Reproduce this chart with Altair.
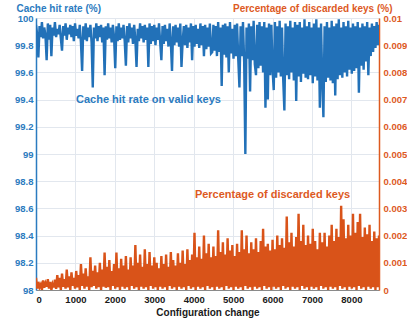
import altair as alt
import pandas as pd

# Configuration-change index, one sample every 30 changes
change = list(range(0, 8701, 30))

# Cache hit rate on valid keys (%)
hit_rate = [
    99.95, 99.88, 99.71, 99.94, 99.86, 99.97, 99.85, 99.93, 99.87, 99.69,
    99.96, 99.84, 99.95, 99.72, 99.93, 99.87, 99.97, 99.86, 99.92, 99.88,
    99.95, 99.85, 99.76, 99.94, 99.87, 99.96, 99.84, 99.93, 99.88, 99.95,
    99.86, 99.94, 99.83, 99.96, 99.87, 99.92, 99.85, 99.95, 99.82, 99.61,
    99.94, 99.84, 99.96, 99.83, 99.93, 99.86, 99.95, 99.82, 99.49, 99.93,
    99.85, 99.96, 99.83, 99.94, 99.86, 99.95, 99.82, 99.93, 99.58, 99.94,
    99.84, 99.96, 99.85, 99.93, 99.82, 99.95, 99.86, 99.63, 99.94, 99.83,
    99.96, 99.84, 99.93, 99.85, 99.95, 99.83, 99.65, 99.94, 99.82, 99.96,
    99.85, 99.93, 99.81, 99.95, 99.84, 99.64, 99.92, 99.83, 99.96, 99.85,
    99.94, 99.82, 99.95, 99.84, 99.93, 99.64, 99.96, 99.81, 99.94, 99.83,
    99.95, 99.80, 99.93, 99.84, 99.96, 99.82, 99.69, 99.94, 99.81, 99.95,
    99.83, 99.92, 99.79, 99.96, 99.82, 99.61, 99.94, 99.80, 99.95, 99.82,
    99.93, 99.79, 99.96, 99.64, 99.83, 99.94, 99.80, 99.95, 99.78, 99.93,
    99.82, 99.96, 99.69, 99.94, 99.79, 99.95, 99.81, 99.92, 99.78, 99.96,
    99.80, 99.94, 99.72, 99.95, 99.77, 99.93, 99.79, 99.96, 99.74, 99.75,
    99.95, 99.76, 99.94, 99.72, 99.97, 99.75, 99.93, 99.50, 99.95, 99.73,
    99.96, 99.71, 99.94, 99.60, 99.97, 99.74, 99.92, 99.70, 99.95, 99.72,
    99.96, 99.70, 99.49, 99.94, 99.72, 99.97, 99.68, 99.00, 99.93, 99.70,
    99.96, 99.46, 99.94, 99.69, 99.98, 99.66, 99.58, 99.95, 99.63, 99.97,
    99.65, 99.94, 99.60, 99.97, 99.34, 99.93, 99.40, 99.96, 99.58, 99.95,
    99.62, 99.47, 99.97, 99.56, 99.94, 99.60, 99.98, 99.57, 99.93, 99.55,
    99.32, 99.96, 99.58, 99.94, 99.55, 99.98, 99.60, 99.93, 99.54, 99.97,
    99.39, 99.95, 99.57, 99.97, 99.53, 99.93, 99.59, 99.99, 99.56, 99.94,
    99.55, 99.97, 99.58, 99.93, 99.52, 99.96, 99.57, 99.99, 99.54, 99.93,
    99.34, 99.96, 99.55, 99.27, 99.94, 99.53, 99.97, 99.56, 99.93, 99.54,
    99.98, 99.52, 99.94, 99.43, 99.96, 99.55, 99.99, 99.58, 99.93, 99.56,
    99.97, 99.60, 99.94, 99.57, 99.98, 99.62, 99.93, 99.59, 99.96, 99.61,
    99.94, 99.63, 99.97, 99.45, 99.93, 99.65, 99.96, 99.62, 99.94, 99.68,
    99.97, 99.58, 99.93, 99.72, 99.96, 99.75, 99.94, 99.78, 99.97, 99.80,
    99.95,
]

# Percentage of discarded keys (%)
discarded = [
    0.00045, 0.00005, 0.00030, 0.00010, 0.00020, 0.00000, 0.00035, 0.00008, 0.00025, 0.00012,
    0.00040, 0.00005, 0.00030, 0.00000, 0.00022, 0.00010, 0.00038, 0.00004, 0.00055, 0.00010,
    0.00045, 0.00000, 0.00060, 0.00012, 0.00040, 0.00005, 0.00075, 0.00010, 0.00050, 0.00000,
    0.00065, 0.00015, 0.00045, 0.00005, 0.00070, 0.00010, 0.00055, 0.00000, 0.00095, 0.00015,
    0.00060, 0.00005, 0.00080, 0.00012, 0.00050, 0.00000, 0.00120, 0.00010, 0.00070, 0.00015,
    0.00090, 0.00005, 0.00065, 0.00010, 0.00100, 0.00000, 0.00075, 0.00012, 0.00138, 0.00008,
    0.00085, 0.00010, 0.00110, 0.00000, 0.00070, 0.00015, 0.00095, 0.00005, 0.00138, 0.00010,
    0.00080, 0.00000, 0.00115, 0.00012, 0.00090, 0.00005, 0.00125, 0.00010, 0.00075, 0.00000,
    0.00120, 0.00015, 0.00090, 0.00005, 0.00165, 0.00010, 0.00100, 0.00000, 0.00130, 0.00012,
    0.00085, 0.00005, 0.00150, 0.00010, 0.00095, 0.00000, 0.00140, 0.00015, 0.00090, 0.00005,
    0.00120, 0.00010, 0.00100, 0.00000, 0.00080, 0.00012, 0.00125, 0.00005, 0.00095, 0.00010,
    0.00130, 0.00000, 0.00085, 0.00015, 0.00140, 0.00005, 0.00110, 0.00010, 0.00090, 0.00000,
    0.00135, 0.00012, 0.00100, 0.00005, 0.00145, 0.00010, 0.00095, 0.00000, 0.00150, 0.00015,
    0.00110, 0.00005, 0.00130, 0.00010, 0.00210, 0.00000, 0.00120, 0.00012, 0.00160, 0.00005,
    0.00115, 0.00010, 0.00200, 0.00000, 0.00135, 0.00015, 0.00170, 0.00005, 0.00120, 0.00010,
    0.00160, 0.00000, 0.00125, 0.00012, 0.00220, 0.00005, 0.00140, 0.00010, 0.00175, 0.00000,
    0.00130, 0.00015, 0.00190, 0.00005, 0.00145, 0.00010, 0.00165, 0.00000, 0.00125, 0.00012,
    0.00170, 0.00005, 0.00140, 0.00010, 0.00220, 0.00000, 0.00150, 0.00015, 0.00200, 0.00005,
    0.00135, 0.00010, 0.00175, 0.00000, 0.00150, 0.00012, 0.00190, 0.00005, 0.00140, 0.00010,
    0.00180, 0.00000, 0.00225, 0.00015, 0.00160, 0.00005, 0.00170, 0.00010, 0.00145, 0.00000,
    0.00185, 0.00012, 0.00150, 0.00005, 0.00200, 0.00010, 0.00165, 0.00000, 0.00190, 0.00015,
    0.00155, 0.00005, 0.00270, 0.00010, 0.00175, 0.00000, 0.00210, 0.00012, 0.00160, 0.00005,
    0.00195, 0.00010, 0.00280, 0.00000, 0.00180, 0.00015, 0.00240, 0.00005, 0.00165, 0.00010,
    0.00200, 0.00000, 0.00170, 0.00012, 0.00225, 0.00005, 0.00180, 0.00010, 0.00150, 0.00000,
    0.00210, 0.00015, 0.00175, 0.00005, 0.00210, 0.00010, 0.00160, 0.00000, 0.00200, 0.00012,
    0.00240, 0.00005, 0.00180, 0.00010, 0.00225, 0.00000, 0.00195, 0.00015, 0.00310, 0.00005,
    0.00260, 0.00010, 0.00190, 0.00000, 0.00240, 0.00012, 0.00200, 0.00005, 0.00280, 0.00010,
    0.00210, 0.00000, 0.00250, 0.00015, 0.00280, 0.00005, 0.00195, 0.00010, 0.00230, 0.00000,
    0.00205, 0.00012, 0.00240, 0.00005, 0.00180, 0.00010, 0.00215, 0.00000, 0.00190, 0.00010,
    0.00200,
]

# Axis tick values
x_ticks = [0, 1000, 2000, 3000, 4000, 5000, 6000, 7000, 8000]
left_ticks = [98, 98.2, 98.4, 98.6, 98.8, 99, 99.2, 99.4, 99.6, 99.8, 100]
right_ticks = [0, 0.001, 0.002, 0.003, 0.004, 0.005, 0.006, 0.007, 0.008, 0.009, 0.01]

# In-plot series labels
hit_label = ["Cache hit rate on valid keys"]
hit_label_at = [1015, 99.375]
disc_label = ["Percentage of discarded keys"]
disc_label_at = [4030, 0.00338]

assert len(change) == len(hit_rate) == len(discarded)

df = pd.DataFrame({"change": change, "hit_rate": hit_rate, "discarded": discarded})

BLUE = "#2271b8"
BLUE_TXT = "#2b7bc0"
ORANGE = "#d95319"
ORANGE_TXT = "#dd5a1f"
GRID = "#e2e7ee"
FONT = "Liberation Sans"
LINE_W = 2.4

x_scale = alt.Scale(domain=[0, 8700], nice=False, zero=False)
x_axis = alt.Axis(
    values=x_ticks,
    format="d",
    title="Configuration change",
    titleFont=FONT,
    titleFontSize=10,
    titleFontWeight="bold",
    titleColor="#1a1a1a",
    titleBaseline="alphabetic",
    titleY=25,
    labelFont=FONT,
    labelFontSize=9.5,
    labelFontWeight="bold",
    labelColor="#1a1a1a",
    labelPadding=4,
    labelOverlap=False,
    ticks=False,
    domainColor="#8a8a8a",
    domainWidth=1,
    grid=True,
    gridColor=GRID,
    gridWidth=1,
)

left_scale = alt.Scale(domain=[98, 100], nice=False, zero=False)
left_axis = alt.Axis(
    orient="left",
    values=left_ticks,
    format="~g",
    title="Cache hit rate (%)",
    titleAngle=0,
    titleAlign="left",
    titleBaseline="alphabetic",
    titleX=-20,
    titleY=-7,
    titleFont=FONT,
    titleFontSize=10,
    titleFontWeight="bold",
    titleColor=BLUE_TXT,
    labelFont=FONT,
    labelFontSize=9.5,
    labelFontWeight="bold",
    labelColor=BLUE_TXT,
    labelPadding=3,
    labelOverlap=False,
    labelBound=False,
    ticks=False,
    domainColor=BLUE_TXT,
    domainWidth=1.5,
    grid=True,
    gridColor=GRID,
    gridWidth=1,
)

right_scale = alt.Scale(domain=[0, 0.01], nice=False, zero=True)
right_axis = alt.Axis(
    orient="right",
    values=right_ticks,
    format="~g",
    title="Percentage of discarded keys (%)",
    titleAngle=0,
    titleAlign="right",
    titleBaseline="alphabetic",
    titleX=13,
    titleY=-7,
    titleFont=FONT,
    titleFontSize=10,
    titleFontWeight="bold",
    titleColor=ORANGE_TXT,
    labelFont=FONT,
    labelFontSize=9.5,
    labelFontWeight="bold",
    labelColor=ORANGE_TXT,
    labelPadding=4,
    labelOverlap=False,
    labelBound=False,
    ticks=False,
    domainColor=ORANGE_TXT,
    domainWidth=1.5,
    grid=False,
)

hit_line = alt.Chart(df).mark_line(color=BLUE, strokeWidth=LINE_W, clip=True).encode(
    x=alt.X("change:Q", scale=x_scale, axis=x_axis),
    y=alt.Y("hit_rate:Q", scale=left_scale, axis=left_axis),
)

hit_text = alt.Chart(pd.DataFrame({"label": hit_label})).mark_text(
    align="left", baseline="alphabetic", font=FONT, fontSize=11,
    fontWeight="bold", color=BLUE_TXT,
).encode(
    x=alt.XDatum(hit_label_at[0], scale=x_scale, axis=x_axis),
    y=alt.YDatum(hit_label_at[1], scale=left_scale, axis=left_axis),
    text="label:N",
)

disc_line = alt.Chart(df).mark_line(color=ORANGE, strokeWidth=LINE_W, clip=True).encode(
    x=alt.X("change:Q", scale=x_scale, axis=x_axis),
    y=alt.Y("discarded:Q", scale=right_scale, axis=right_axis),
)

disc_text = alt.Chart(pd.DataFrame({"label": disc_label})).mark_text(
    align="left", baseline="alphabetic", font=FONT, fontSize=11,
    fontWeight="bold", color=ORANGE_TXT,
).encode(
    x=alt.XDatum(disc_label_at[0], scale=x_scale, axis=x_axis),
    y=alt.YDatum(disc_label_at[1], scale=right_scale, axis=right_axis),
    text="label:N",
)

chart = (
    alt.layer(alt.layer(hit_line, hit_text), alt.layer(disc_line, disc_text))
    .resolve_scale(y="independent")
    .properties(
        width=343,
        height=272,
        autosize=alt.AutoSizeParams(type="none"),
        padding={"left": 36, "top": 18, "right": 28, "bottom": 33},
        background="white",
    )
    .configure_view(stroke="#d3d9e2", strokeWidth=1)
    .configure_axis(labelOverlap=False)
)

chart.save("out.html", embed_options={"renderer": "svg", "actions": False})
